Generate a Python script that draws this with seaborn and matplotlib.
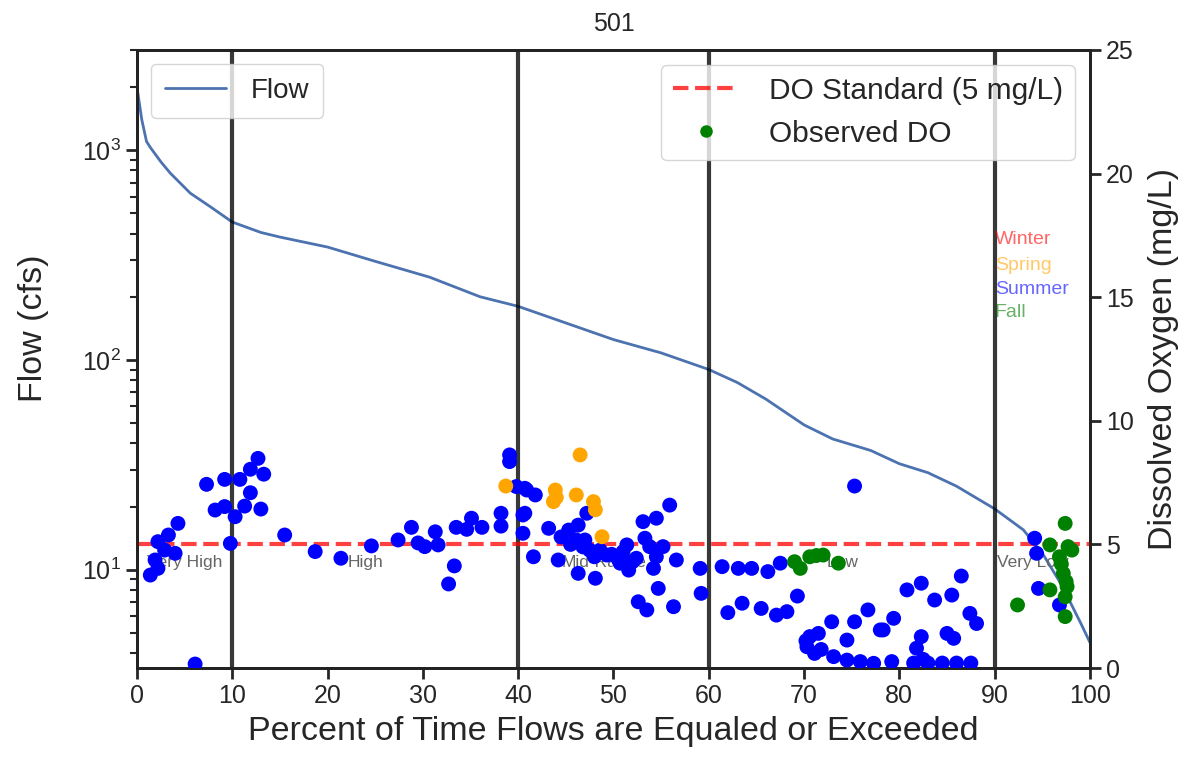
import numpy as np
import pandas as pd
import matplotlib
matplotlib.use("Agg")
import matplotlib.pyplot as plt
import seaborn as sns
from matplotlib.lines import Line2D

sns.set_theme(style="ticks")
plt.rcParams['font.family'] = ['Liberation Sans', 'DejaVu Sans']

# ---------------- data ----------------
title = "501"
flow_pct = [0, 0.5, 1, 1.4, 2.5, 3.5, 5.6, 7.7, 10, 13, 15, 20, 25, 30.7, 36,
            40, 45, 50, 55, 60, 63, 66, 70, 73, 77, 80, 83, 86, 90, 93, 95,
            97, 99, 100]
flow_cfs = [2000, 1400, 1100, 1030, 880, 776, 623, 537, 454, 405, 385, 345,
            295, 248, 200, 180, 150, 125, 108, 90, 78, 65, 49, 42, 37, 32, 29,
            25, 19.5, 15.5, 12, 8.5, 5.6, 4.5]

summer_pct = [7.3, 9.2, 10.8, 11.9, 12.7, 13.3, 11.9, 8.2, 9.2, 10.3, 11.3, 13.0,
              4.3, 3.3, 2.2, 4.0, 2.9, 1.9, 2.2, 1.4, 9.8, 15.5, 18.7, 6.1,
              21.4, 24.6, 27.4, 28.8, 30.2, 31.3, 31.6, 29.5, 33.5, 34.6, 35.1,
              36.2, 33.3, 32.7, 38.2, 38.2, 39.1, 39.1, 40.7, 40.5, 40.5,
              39.8, 40.9, 41.8, 40.7, 41.6, 44.2, 43.2, 45.3, 46.3, 47.2, 46.1,
              47.0, 47.5, 48.6, 49.3, 50.7, 51.6, 51.4, 52.4, 53.1, 53.3, 54.5,
              55.9, 54.5, 54.2, 54.7, 56.6, 46.3, 48.1, 52.6, 53.5, 56.3, 59.1,
              59.2, 55.2, 53.8, 44.5, 45.5, 46.8, 48.0, 49.8, 50.5, 51.0, 52.0,
              75.3, 61.4, 63.1, 64.5, 66.2, 67.5, 62.0, 63.5, 65.5, 67.1, 68.2,
              69.3, 70.6, 70.3, 71.5, 71.1, 72.9, 73.1, 74.5, 75.3, 76.7, 74.5,
              75.9, 77.3, 78.0, 79.4, 79.2, 70.2, 71.8,
              80.8, 82.3, 83.7, 85.5, 86.5, 87.4, 88.1, 78.3, 82.3, 81.8, 85.0,
              85.7, 81.5, 83.0, 84.5, 86.0, 87.5, 82.5,
              94.2, 94.4, 94.6, 96.8]
summer_do = [7.43, 7.63, 7.63, 8.04, 8.48, 7.84, 7.09, 6.39, 6.53, 6.12, 6.55, 6.43,
             5.85, 5.38, 5.11, 4.64, 4.77, 4.37, 4.03, 3.76, 5.04, 5.38, 4.71, 0.16,
             4.44, 4.94, 5.18, 5.69, 4.91, 5.51, 4.98, 5.06, 5.69, 5.61, 6.06,
             5.69, 4.13, 3.40, 6.26, 5.74, 8.62, 8.35, 7.27, 6.19, 5.45,
             7.34, 7.2, 7.0, 6.26, 4.5, 4.37, 5.65, 5.58, 5.78, 6.26, 5.18,
             5.18, 4.77, 4.77, 4.57, 4.24, 3.96, 4.98, 4.44, 5.92, 5.25, 6.06,
             6.59, 4.5, 4.03, 3.22, 4.37, 3.83, 3.63, 2.68, 2.35, 2.48, 4.03,
             3.02, 4.91, 4.91, 5.3, 5.0, 4.9, 4.5, 4.6, 4.4, 4.7, 4.3,
             7.36, 4.1, 4.03, 4.03, 3.9, 4.24, 2.24, 2.62, 2.41, 2.14, 2.28,
             2.91, 1.27, 0.86, 1.4, 0.59, 1.87, 0.46, 1.13, 1.87, 2.35, 0.32,
             0.26, 0.19, 1.54, 2.01, 0.26, 1.1, 0.75,
             3.16, 3.43, 2.75, 2.95, 3.72, 2.21, 1.8, 1.54, 1.27, 0.8, 1.4,
             1.2, 0.2, 0.2, 0.2, 0.2, 0.2, 0.35,
             5.25, 4.64, 3.22, 2.55]

spring_pct = [38.7, 46.5, 43.9, 43.7, 44.0, 46.1, 47.9, 48.1, 48.8]
spring_do = [7.36, 8.62, 7.2, 6.73, 6.9, 7.0, 6.73, 6.4, 5.31]

fall_pct = [69.0, 69.6, 70.6, 71.3, 72.0, 73.6, 97.4, 95.8, 97.7, 96.8, 97.2,
            97.6, 95.8, 97.4, 97.4, 92.4, 98.1, 97.0, 97.5]
fall_do = [4.3, 4.03, 4.5, 4.55, 4.57, 4.24, 5.85, 4.98, 4.91, 4.5, 3.83,
           3.29, 3.16, 2.88, 2.08, 2.55, 4.77, 4.2, 3.5]

zone_bounds = [10, 40, 60, 90]
zone_labels = ["Very High", "High", "Mid-Range", "Low", "Very Low"]
zone_centers = [5, 24, 49, 74, 94]
season_names = ["Winter", "Spring", "Summer", "Fall"]
season_colors = ["red", "orange", "blue", "green"]
do_standard = 5

# ---------------- plot ----------------
fig = plt.figure(figsize=(11.89, 7.61), dpi=100)
ax1 = fig.add_axes([0.1152, 0.1222, 0.8015, 0.8121])

flow_df = pd.DataFrame({"pct": flow_pct, "flow": flow_cfs})
sns.lineplot(data=flow_df, x="pct", y="flow", ax=ax1, color="#4c72b0",
             lw=2, label="Flow")
ax1.set_yscale("log")
ax1.set_ylim(3.4, 3000)
ax1.set_xlim(0, 100)
ax1.set_xticks(range(0, 101, 10))

for b in zone_bounds:
    ax1.axvline(b, color="black", alpha=0.78, lw=3)
for lab, c in zip(zone_labels, zone_centers):
    ax1.text(c, 10, lab, ha="center", va="bottom", fontsize=12.5, color="#666666")

ax1.set_xlabel("Percent of Time Flows are Equaled or Exceeded", fontsize=24.5,
               labelpad=6)
ax1.set_ylabel("Flow (cfs)", fontsize=24.5)
ax1.yaxis.set_label_coords(-0.092, 0.55)
ax1.set_title(title, fontsize=18, pad=14)
ax1.tick_params(axis="both", which="major", labelsize=18, length=8, width=2)
ax1.tick_params(axis="y", which="minor", length=5, width=1.5)
leg1 = ax1.legend(loc="upper left", fontsize=20, handlelength=2.2,
                  handletextpad=0.9, borderpad=0.5, frameon=True)

ax2 = ax1.twinx()
ax2.axhline(do_standard, color="red", alpha=0.75, lw=3, ls="--")
do_df = pd.DataFrame({
    "pct": summer_pct + spring_pct + fall_pct,
    "do": summer_do + spring_do + fall_do,
    "season": ["Summer"] * len(summer_pct) + ["Spring"] * len(spring_pct)
              + ["Fall"] * len(fall_pct),
})
sns.scatterplot(data=do_df, x="pct", y="do", hue="season", ax=ax2,
                palette=dict(zip(season_names, season_colors)), s=115,
                linewidth=0, legend=False, zorder=3)
ax2.set_ylim(0, 25)
ax2.set_yticks(range(0, 26, 5))
ax2.set_ylabel("Dissolved Oxygen (mg/L)", fontsize=24.5, labelpad=10)
ax2.set_xlabel("")
ax2.tick_params(axis="y", labelsize=18, length=8, width=2)

handles = [Line2D([0], [0], color="red", alpha=0.75, lw=3, ls="--"),
           Line2D([0], [0], color="green", marker="o", ls="", markersize=8)]
ax2.legend(handles, ["DO Standard (5 mg/L)", "Observed DO"], loc="upper right",
           fontsize=21.5, handlelength=2.2, handletextpad=1.0, frameon=True)

ys = [0.693, 0.652, 0.612, 0.575]
for name, col, yy in zip(season_names, season_colors, ys):
    ax2.text(0.9, yy, name, transform=ax2.transAxes, color=col, alpha=0.6,
             fontsize=14, va="center", ha="left")

for ax in (ax1, ax2):
    for sp in ax.spines.values():
        sp.set_visible(True)
        sp.set_color("#222222")
        sp.set_linewidth(2)

fig.savefig("out.png", dpi=100)
